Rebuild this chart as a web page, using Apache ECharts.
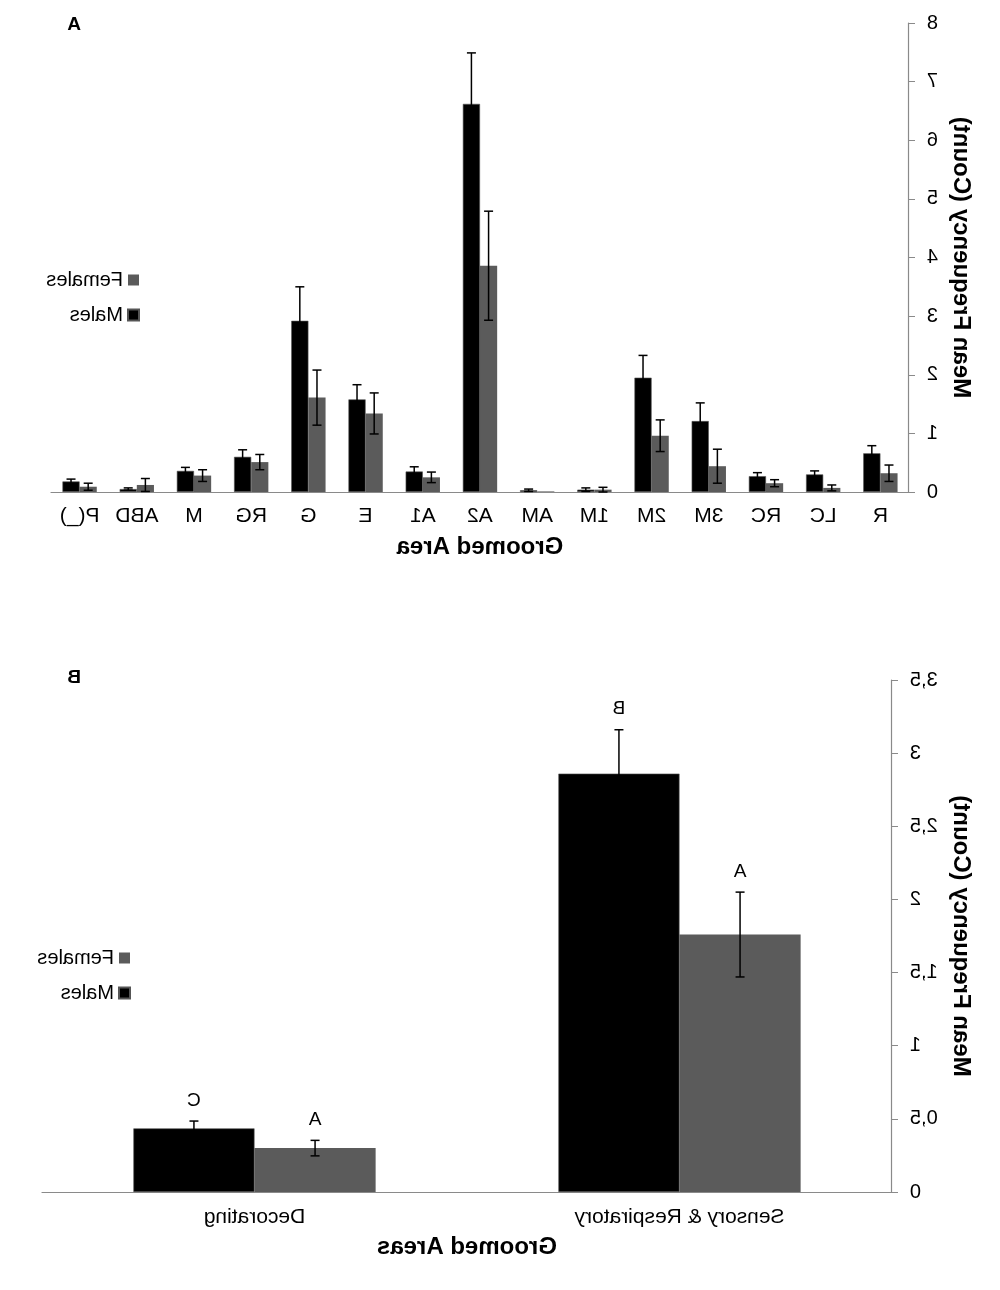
<!DOCTYPE html>
<html>
<head>
  <meta charset="UTF-8">
  <title>Grooming frequency</title>
  <script src="https://cdn.jsdelivr.net/npm/echarts@6/dist/echarts.min.js"></script>
  <style>
    body { margin: 0; background: #fff; }
    /* the reference figure is a mirror image, so the whole chart is flipped */
    #chart { width: 1000px; height: 1290px; transform: scaleX(-1); }
  </style>
</head>
<body>
  <div id="chart"></div>
  <script>
    // panel A
    var areasA = ['R', 'LC', 'RC', '3M', '2M', '1M', 'AM', 'A2', 'A1', 'E', 'G', 'RG', 'M', 'ABD', 'P(_)'];
    var malesA = [0.66, 0.30, 0.27, 1.21, 1.95, 0.04, 0.03, 6.62, 0.35, 1.58, 2.92, 0.60, 0.36, 0.05, 0.18];
    var malesErrA = [0.13, 0.06, 0.06, 0.31, 0.38, 0.03, 0.02, 0.87, 0.08, 0.25, 0.58, 0.12, 0.06, 0.02, 0.04];
    var femalesA = [0.32, 0.07, 0.15, 0.44, 0.96, 0.04, 0.01, 3.86, 0.25, 1.34, 1.61, 0.51, 0.28, 0.12, 0.09];
    var femalesErrA = [0.14, 0.05, 0.06, 0.29, 0.27, 0.04, 0, 0.93, 0.09, 0.35, 0.47, 0.13, 0.10, 0.11, 0.06];

    // panel B
    var areasB = ['Sensory & Respiratory', 'Decorating'];
    var malesB = [2.86, 0.435];
    var malesErrB = [0.30, 0.05];
    var femalesB = [1.76, 0.30];
    var femalesErrB = [0.29, 0.053];
    var malesLetters = ['B', 'C'];
    var femalesLetters = ['A', 'A'];

    var FONT = 'Liberation Sans, Arial, sans-serif';
    var GREY = '#5b5b5b';
    var GAP_A = 0.40, GAP_B = 0.43;

    function errorBars(vals, errs, side, gap, letters) {
      return function (params, api) {
        var i = params.dataIndex;
        var e = errs[i];
        var catW = api.size([1, 0])[0];
        var barW = catW * (1 - gap) / 2;
        var x = api.coord([i, vals[i]])[0] + side * barW / 2;
        var yTop = api.coord([i, vals[i] + e])[1];
        var yBot = api.coord([i, Math.max(vals[i] - e, 0)])[1];
        var st = { stroke: '#000', lineWidth: 1.5 };
        var kids = [];
        if (e > 0) {
          kids.push({ type: 'line', shape: { x1: x, y1: yTop, x2: x, y2: yBot }, style: st });
          kids.push({ type: 'line', shape: { x1: x - 4.5, y1: yTop, x2: x + 4.5, y2: yTop }, style: st });
          kids.push({ type: 'line', shape: { x1: x - 4.5, y1: yBot, x2: x + 4.5, y2: yBot }, style: st });
        }
        if (letters) {
          kids.push({ type: 'text', x: x, y: yTop - 11, style: {
            text: letters[i], fill: '#000', font: '19px ' + FONT, align: 'center', verticalAlign: 'bottom'
          } });
        }
        return { type: 'group', children: kids };
      };
    }

    function idx(arr) { return arr.map(function (v, i) { return [i, v]; }); }

    var axisLineStyle = { lineStyle: { color: '#8a8a8a', width: 1.2 } };
    var titleStyle = { fontSize: 24, fontWeight: 'bold', color: '#000' };
    var chart = echarts.init(document.getElementById('chart'), null, { renderer: 'canvas' });

    chart.setOption({
      animation: false,
      textStyle: { fontFamily: FONT },
      graphic: [
        { type: 'text', left: 919, top: 15, style: { text: 'A', font: 'bold 19px ' + FONT, fill: '#000' } },
        { type: 'text', left: 919, top: 668, style: { text: 'B', font: 'bold 19px ' + FONT, fill: '#000' } }
      ],
      legend: [
        { data: ['Females', 'Males'], orient: 'vertical', left: 855, top: 265, itemWidth: 11, itemHeight: 11,
          itemGap: 15, itemTextGap: 7, icon: 'rect', textStyle: { fontSize: 20, color: '#000' } },
        { data: ['Females', 'Males'], orient: 'vertical', left: 864, top: 943, itemWidth: 11, itemHeight: 11,
          itemGap: 15, itemTextGap: 7, icon: 'rect', textStyle: { fontSize: 20, color: '#000' } }
      ],
      grid: [
        { left: 91, right: 51, top: 23, height: 469 },
        { left: 108, right: 42, top: 680, height: 512 }
      ],
      xAxis: [
        { type: 'category', gridIndex: 0, data: areasA, axisLine: axisLineStyle,
          axisTick: { interval: 0, length: 6, lineStyle: { color: '#8a8a8a' } },
          axisLabel: { interval: 0, fontSize: 21, color: '#000', margin: 14 },
          name: 'Groomed Area', nameLocation: 'middle', nameGap: 43, nameTextStyle: titleStyle },
        { type: 'category', gridIndex: 1, data: areasB, axisLine: axisLineStyle,
          axisTick: { interval: 0, length: 6, lineStyle: { color: '#8a8a8a' } },
          axisLabel: { interval: 0, fontSize: 21, color: '#000', margin: 15 },
          name: 'Groomed Areas', nameLocation: 'middle', nameGap: 43, nameTextStyle: titleStyle }
      ],
      yAxis: [
        { type: 'value', gridIndex: 0, min: 0, max: 8, interval: 1, splitLine: { show: false },
          axisLine: { show: true, lineStyle: { color: '#8a8a8a', width: 1.2 } },
          axisTick: { show: true, length: 6, lineStyle: { color: '#8a8a8a' } },
          axisLabel: { fontSize: 20, color: '#000', margin: 18 },
          name: 'Mean Frequency (Count)', nameLocation: 'middle', nameGap: 35, nameTextStyle: titleStyle },
        { type: 'value', gridIndex: 1, min: 0, max: 3.5, interval: 0.5, splitLine: { show: false },
          axisLine: { show: true, lineStyle: { color: '#8a8a8a', width: 1.2 } },
          axisTick: { show: true, length: 6, lineStyle: { color: '#8a8a8a' } },
          axisLabel: { fontSize: 20, color: '#000', margin: 18,
            formatter: function (v) { return String(v).replace('.', ','); } },
          name: 'Mean Frequency (Count)', nameLocation: 'middle', nameGap: 53, nameTextStyle: titleStyle }
      ],
      series: [
        { name: 'Females', type: 'bar', xAxisIndex: 0, yAxisIndex: 0, data: femalesA,
          barGap: '0%', barCategoryGap: '40%', itemStyle: { color: GREY } },
        { name: 'Males', type: 'bar', xAxisIndex: 0, yAxisIndex: 0, data: malesA,
          barGap: '0%', barCategoryGap: '40%', itemStyle: { color: '#000', borderColor: '#555', borderWidth: 0.6 } },
        { type: 'custom', xAxisIndex: 0, yAxisIndex: 0, z: 5, data: idx(femalesA),
          renderItem: errorBars(femalesA, femalesErrA, -1, GAP_A) },
        { type: 'custom', xAxisIndex: 0, yAxisIndex: 0, z: 5, data: idx(malesA),
          renderItem: errorBars(malesA, malesErrA, 1, GAP_A) },

        { name: 'Females', type: 'bar', xAxisIndex: 1, yAxisIndex: 1, data: femalesB,
          barGap: '0%', barCategoryGap: '43%', itemStyle: { color: GREY } },
        { name: 'Males', type: 'bar', xAxisIndex: 1, yAxisIndex: 1, data: malesB,
          barGap: '0%', barCategoryGap: '43%', itemStyle: { color: '#000', borderColor: '#555', borderWidth: 0.6 } },
        { type: 'custom', xAxisIndex: 1, yAxisIndex: 1, z: 5, data: idx(femalesB),
          renderItem: errorBars(femalesB, femalesErrB, -1, GAP_B, femalesLetters) },
        { type: 'custom', xAxisIndex: 1, yAxisIndex: 1, z: 5, data: idx(malesB),
          renderItem: errorBars(malesB, malesErrB, 1, GAP_B, malesLetters) }
      ]
    });
  </script>
</body>
</html>
